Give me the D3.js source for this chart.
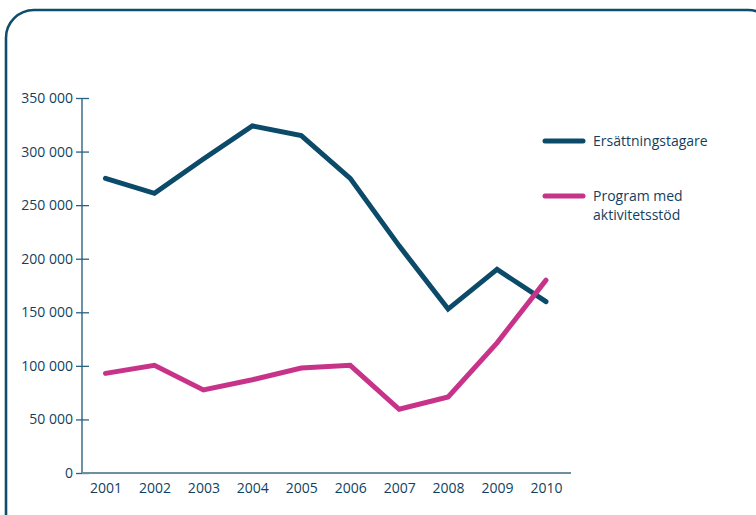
<!DOCTYPE html>
<html><head><meta charset="utf-8">
<script src="https://cdn.jsdelivr.net/npm/d3@7"></script>
<style>
html,body{margin:0;padding:0;background:#fff;}
svg{display:block;}
text{font-family:"Open Sans",sans-serif;fill:#123f5f;}
</style></head>
<body>
<svg id="c" width="756" height="515"></svg>
<script>
const years = [2001,2002,2003,2004,2005,2006,2007,2008,2009,2010];
const ersattning = [275000,261000,293000,324000,315000,275000,212000,153000,190000,160000];
const program = [93000,100500,77500,87000,98000,100500,59500,71000,121500,180000];
const yTicks = [0,50000,100000,150000,200000,250000,300000,350000];
const seriesNames = ["Ersättningstagare","Program med|aktivitetsstöd"];
const colors = ["#0b4a69","#c8338a"];

const svg = d3.select("#c");
const navy = "#0f4d6d";
const txt = "#123f5f";
const fs = 14;
// frame
svg.append("rect").attr("x",6).attr("y",10).attr("width",770).attr("height",540)
  .attr("rx",28).attr("ry",28).attr("fill","none").attr("stroke",navy).attr("stroke-width",2.6);

const x = d3.scalePoint().domain(years).range([105.5,546]);
const y = d3.scaleLinear().domain([0,350000]).range([473,98]);
const fmt = d => d3.format(",")(d).replace(/,/g," ");

// y axis
const gy = svg.append("g").attr("transform","translate(82,0)")
  .call(d3.axisLeft(y).tickValues(yTicks).tickFormat(fmt).tickSize(6).tickPadding(3));
gy.select(".domain").attr("stroke","#1d5777").attr("stroke-width",1.3).attr("d","M0,98V473");
gy.selectAll(".tick line").attr("x1",-6).attr("x2",7).attr("stroke","#2a6282").attr("stroke-width",1.3);
gy.selectAll(".tick text").attr("font-size",fs).attr("fill",txt).style("font-family","'Open Sans',sans-serif");

// x axis
const gx = svg.append("g").attr("transform","translate(0,473)")
  .call(d3.axisBottom(x).tickSize(0).tickPadding(10));
gx.select(".domain").attr("stroke","#6f8f9f").attr("stroke-width",2).attr("d","M82,0H571");
gx.selectAll(".tick text").attr("font-size",fs).attr("fill",txt).style("font-family","'Open Sans',sans-serif");

const line = d3.line().x((d,i)=>x(years[i])).y(d=>y(d));
[ersattning, program].forEach((s,k)=>{
  svg.append("path").datum(s).attr("d",line).attr("fill","none")
    .attr("stroke",colors[k]).attr("stroke-width",5).attr("stroke-linecap","round").attr("stroke-linejoin","miter");
});

// legend
const legY = [141,196];
seriesNames.forEach((n,k)=>{
  svg.append("line").attr("x1",545).attr("x2",583).attr("y1",legY[k]).attr("y2",legY[k])
    .attr("stroke",colors[k]).attr("stroke-width",5).attr("stroke-linecap","round");
  const parts = n.split("|");
  parts.forEach((p,i)=>svg.append("text").attr("x",593).attr("y",legY[k]+5+i*19)
    .attr("font-size",fs).attr("fill",txt).text(p));
});
</script>
</body></html>
